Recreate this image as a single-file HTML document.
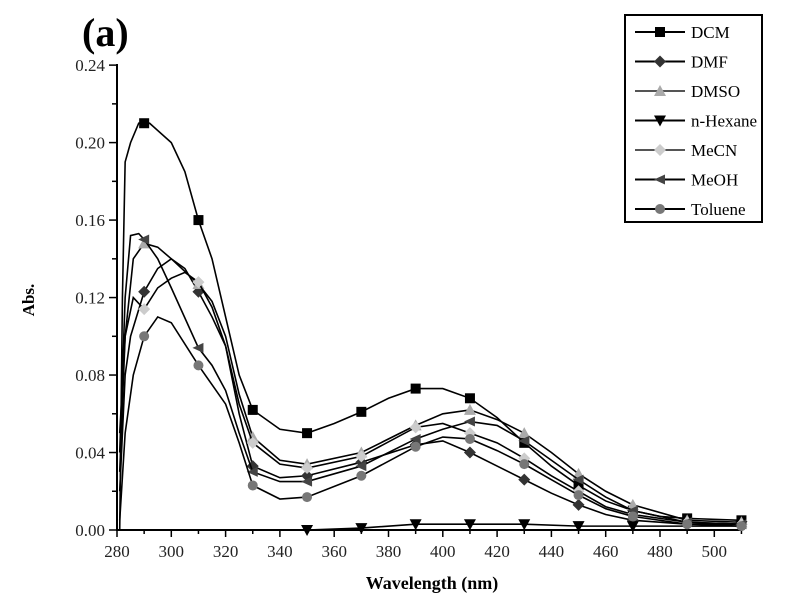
<!DOCTYPE html>
<html><head><meta charset="utf-8"><style>
html,body{margin:0;padding:0;background:#fff;}
svg{display:block;font-family:"Liberation Serif",serif;}
</style></head><body>
<svg id="s" width="800" height="615" viewBox="0 0 800 615" xmlns="http://www.w3.org/2000/svg">
<rect width="800" height="615" fill="#fff"/>
<text x="82" y="46" font-size="40" font-weight="bold">(a)</text>
<g id="axes" stroke="#000" stroke-width="2" fill="none">
<line x1="117" y1="64" x2="117" y2="531"/>
<line x1="116" y1="530" x2="742" y2="530"/>
</g>
<g id="ticks" stroke="#000" stroke-width="1.5"></g>
<g id="lbl" font-size="17" fill="#222"></g>
<text x="432" y="589" font-size="18" font-weight="bold" text-anchor="middle">Wavelength (nm)</text>
<text transform="translate(34,300) rotate(-90)" font-size="17" font-weight="bold" text-anchor="middle">Abs.</text>
<g id="data" fill="none" stroke-width="1.6"></g>
<g id="leg">
<rect x="625" y="15" width="137" height="207" fill="#fff" stroke="#000" stroke-width="2"/>
</g>
</svg>
<script>
const NS="http://www.w3.org/2000/svg";
const px=n=>117+(n-280)*2.715, py=a=>530-a*1937;
function el(t,a,p){const e=document.createElementNS(NS,t);for(const k in a)e.setAttribute(k,a[k]);(p||document.getElementById('s')).appendChild(e);return e;}
const T=document.getElementById('ticks'),L=document.getElementById('lbl');
for(let n=280;n<=500;n+=20){el('line',{x1:px(n),y1:530,x2:px(n),y2:537},T);let t=el('text',{x:px(n),y:557,'text-anchor':'middle'},L);t.textContent=n;}
for(let n=290;n<=510;n+=20){el('line',{x1:px(n),y1:530,x2:px(n),y2:534},T);}
for(let a=0;a<=0.2401;a+=0.04){el('line',{x1:109,y1:py(a),x2:117,y2:py(a)},T);let t=el('text',{x:105,y:py(a)+6,'text-anchor':'end'},L);t.textContent=a.toFixed(2);}
for(let a=0.02;a<0.24;a+=0.04){el('line',{x1:112,y1:py(a),x2:117,y2:py(a)},T);}
const D=document.getElementById('data');
const series=[
 ['DCM','#000','sq',[[281,0],[282,0.12],[283,0.19],[285,0.2],[288,0.21],[292,0.21],[300,0.2],[305,0.185],[310,0.16],[315,0.14],[320,0.11],[325,0.08],[330,0.062],[340,0.052],[350,0.05],[360,0.055],[370,0.061],[380,0.068],[390,0.073],[400,0.073],[410,0.068],[420,0.058],[430,0.045],[440,0.033],[450,0.023],[460,0.015],[470,0.01],[480,0.007],[490,0.006],[510,0.005]]],
 ['DMF','#333','dia',[[281,0.02],[283,0.08],[285,0.1],[290,0.123],[295,0.135],[300,0.14],[305,0.135],[310,0.123],[315,0.11],[320,0.095],[325,0.06],[330,0.033],[340,0.027],[350,0.028],[370,0.035],[390,0.044],[400,0.046],[410,0.04],[420,0.033],[430,0.026],[440,0.019],[450,0.013],[460,0.008],[470,0.005],[490,0.003],[510,0.003]]],
 ['DMSO','#aaa','tri',[[281,0.03],[283,0.1],[286,0.14],[290,0.148],[295,0.146],[300,0.14],[310,0.127],[315,0.118],[320,0.1],[325,0.07],[330,0.048],[340,0.036],[350,0.034],[370,0.04],[390,0.054],[400,0.06],[410,0.062],[420,0.057],[430,0.05],[440,0.04],[450,0.029],[460,0.02],[470,0.013],[490,0.005],[510,0.004]]],
 ['n-Hexane','#000','tdn',[[350,0],[370,0.001],[390,0.003],[410,0.003],[430,0.003],[450,0.002],[470,0.002],[490,0.002],[510,0.002]]],
 ['MeCN','#ccc','dia',[[281,0.05],[283,0.1],[286,0.12],[290,0.114],[295,0.125],[300,0.13],[305,0.133],[310,0.128],[315,0.115],[320,0.095],[325,0.065],[330,0.045],[340,0.034],[350,0.032],[370,0.038],[390,0.053],[400,0.055],[410,0.05],[420,0.045],[430,0.037],[440,0.028],[450,0.02],[460,0.012],[470,0.008],[490,0.004],[510,0.003]]],
 ['MeOH','#444','tl',[[281,0.04],[283,0.12],[285,0.152],[288,0.153],[290,0.15],[295,0.14],[300,0.125],[310,0.094],[315,0.085],[320,0.072],[325,0.05],[330,0.03],[340,0.025],[350,0.025],[370,0.033],[390,0.047],[400,0.052],[410,0.056],[420,0.054],[430,0.046],[440,0.036],[450,0.026],[460,0.017],[470,0.01],[490,0.004],[510,0.003]]],
 ['Toluene','#777','hex',[[281,0.005],[283,0.05],[286,0.08],[290,0.1],[295,0.11],[300,0.107],[310,0.085],[315,0.075],[320,0.065],[325,0.045],[330,0.023],[340,0.016],[350,0.017],[370,0.028],[390,0.043],[400,0.048],[410,0.047],[420,0.041],[430,0.034],[440,0.026],[450,0.018],[460,0.011],[470,0.007],[490,0.003],[510,0.002]]]
];
function mk(type,x,y,c,g){const r=5;
 if(type=='sq')el('rect',{x:x-r,y:y-r,width:2*r,height:2*r,fill:c},g);
 else if(type=='tri')el('polygon',{points:`${x},${y-r-1} ${x+r+1},${y+r} ${x-r-1},${y+r}`,fill:c},g);
 else if(type=='tdn')el('polygon',{points:`${x},${y+r+1} ${x+r+1},${y-r} ${x-r-1},${y-r}`,fill:c},g);
 else if(type=='dia')el('polygon',{points:`${x},${y-r-1} ${x+r+1},${y} ${x},${y+r+1} ${x-r-1},${y}`,fill:c},g);
 else if(type=='tl')el('polygon',{points:`${x-r-1},${y} ${x+r},${y-r} ${x+r},${y+r}`,fill:c},g);
 else el('circle',{cx:x,cy:y,r:r,fill:c},g);}
series.forEach((s,i)=>{
 const [name,c,m,pts]=s;
 el('polyline',{points:pts.map(p=>px(p[0])+','+py(p[1])).join(' '),stroke:'#000'},D);
 [290,310,330,350,370,390,410,430,450,470,490,510].forEach(n=>{
   for(let k=0;k<pts.length-1;k++){if(pts[k][0]<=n&&pts[k+1][0]>=n){const t=(n-pts[k][0])/(pts[k+1][0]-pts[k][0]);mk(m,px(n),py(pts[k][1]+t*(pts[k+1][1]-pts[k][1])),c,D);break;}}
 });
 const G=document.getElementById('leg'),y=32+i*29.5;
 el('line',{x1:635,y1:y,x2:685,y2:y,stroke:c=='#ccc'||c=='#aaa'?'#555':'#000','stroke-width':2},G);
 mk(m,660,y,c,G);
 const t=el('text',{x:691,y:y+6,'font-size':17},G);t.textContent=name;
});
</script>
</body></html>
